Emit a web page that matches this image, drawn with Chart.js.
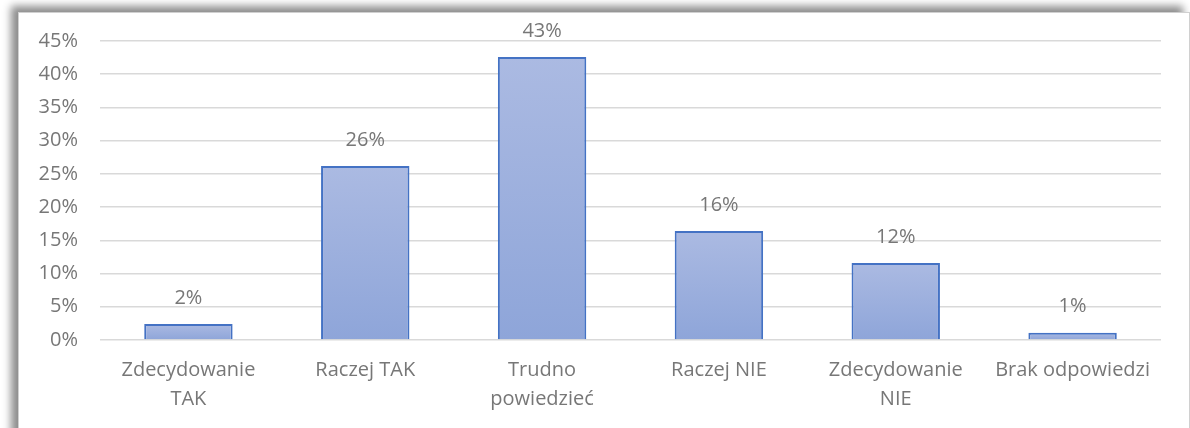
<!DOCTYPE html>
<html>
<head>
<meta charset="utf-8">
<script src="https://cdn.jsdelivr.net/npm/chart.js@4"></script>
<style>
  html, body { margin: 0; padding: 0; background: #ffffff; }
  #wrap { position: relative; width: 1190px; height: 428px; overflow: hidden; background: #fff; }
  #panel { position: absolute; left: 18px; top: 12px; width: 1170px; height: 440px;
           background: #fff; border: 1px solid #d0d0d0;
           box-shadow: -7px -6px 8px rgba(0,0,0,0.45); }
  #c { position: absolute; left: 0; top: 0; }
</style>
</head>
<body>
<div id="wrap">
  <div id="panel"></div>
  <canvas id="c" width="1190" height="428"></canvas>
</div>
<script>
const categories = [['Zdecydowanie', 'TAK'], 'Raczej TAK', ['Trudno', 'powiedzieć'], 'Raczej NIE', ['Zdecydowanie', 'NIE'], 'Brak odpowiedzi'];
const values = [2.4, 26.2, 42.6, 16.4, 11.6, 1.1];
const shownLabels = ['2%', '26%', '43%', '16%', '12%', '1%'];
const yTicks = [0, 5, 10, 15, 20, 25, 30, 35, 40, 45];

const textColor = '#777777';
const fontFamily = '"Open Sans", sans-serif';

// etykiety nad słupkami
const valueLabels = {
    id: 'valueLabels',
    afterDatasetsDraw(chart) {
        const ctx = chart.ctx;
        const meta = chart.getDatasetMeta(0);
        ctx.save();
        ctx.fillStyle = textColor;
        ctx.font = '20px ' + fontFamily;
        ctx.textAlign = 'center';
        ctx.textBaseline = 'middle';
        meta.data.forEach((bar, i) => {
            ctx.fillText(shownLabels[i], bar.x, bar.y - 26);
        });
        ctx.restore();
    }
};

function barGradient(context) {
    const chart = context.chart;
    const area = chart.chartArea;
    if (!area) return '#9db0de';
    const y = chart.scales.y;
    const top = y.getPixelForValue(values[context.dataIndex]);
    const bottom = y.getPixelForValue(0);
    const g = chart.ctx.createLinearGradient(0, top, 0, bottom);
    g.addColorStop(0, '#abbae2');
    g.addColorStop(1, '#8ea5d9');
    return g;
}

new Chart(document.getElementById('c'), {
    type: 'bar',
    data: {
        labels: categories,
        datasets: [{
            data: values,
            backgroundColor: barGradient,
            borderColor: '#4472c4',
            borderWidth: 2,
            borderSkipped: 'bottom',
            barPercentage: 0.5,
            categoryPercentage: 1.0
        }]
    },
    options: {
        responsive: false,
        animation: false,
        layout: { padding: { top: 41, right: 29, bottom: 0, left: 0 } },
        plugins: { legend: { display: false }, tooltip: { enabled: false } },
        scales: {
            x: {
                grid: { display: false, drawTicks: false },
                border: { display: false },
                ticks: { color: textColor, font: { size: 20, family: fontFamily, lineHeight: 1.45 }, padding: 16, maxRotation: 0, autoSkip: false },
                afterFit: (s) => { s.height = 88; }
            },
            y: {
                min: 0, max: 45,
                afterBuildTicks: (s) => { s.ticks = yTicks.map(v => ({ value: v })); },
                grid: { color: '#d9d9d9', lineWidth: 1.5, drawTicks: false },
                border: { display: false },
                ticks: { color: textColor, font: { size: 20, family: fontFamily }, padding: 22, callback: (v) => v + '%' },
                afterFit: (s) => { s.width = 100; }
            }
        }
    },
    plugins: [valueLabels]
});
</script>
</body>
</html>
